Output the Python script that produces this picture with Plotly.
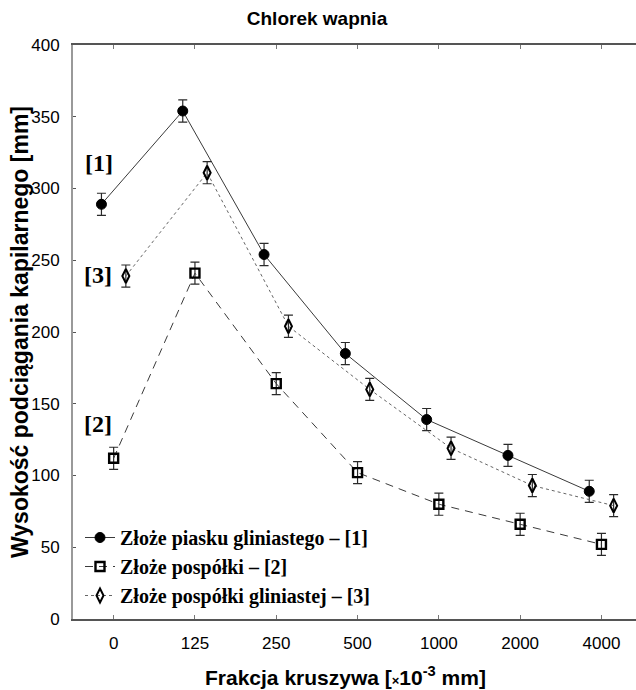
import plotly.graph_objects as go

# Aggregate fractions (x10^-3 mm)
fractions = ["0", "125", "250", "500", "1000", "2000", "4000"]

# Capillary rise height [mm] for each bed
piasek_gliniasty = [289, 354, 254, 185, 139, 114, 89]
pospolka = [112, 241, 164, 102, 80, 66, 52]
pospolka_gliniasta = [239, 311, 204, 160, 119, 93, 79]

# Error bar half-widths [mm]
err_piasek = [7.7, 7.7, 7.7, 7.7, 7.7, 7.7, 7.7]
err_pospolka = [7.7, 7.7, 7.7, 7.7, 7.7, 7.7, 7.7]
err_pospolka_gl = [7.7, 7.7, 7.7, 7.7, 7.7, 7.7, 7.7]

names = [
    "Złoże piasku gliniastego – [1]",
    "Złoże pospółki – [2]",
    "Złoże pospółki gliniastej – [3]",
]

idx = list(range(len(fractions)))
W, H = 636, 690
L, R, T, B = 73, 0, 45, 71

fig = go.Figure()

def add_series(vals, errs, name, offset, symbol, msize, mcolor, mline, lcolor, dash, lwidth):
    fig.add_trace(go.Scatter(
        x=[i + offset for i in idx], y=vals, name="<b>" + name + "</b>",
        mode="lines+markers",
        line=dict(color=lcolor, width=lwidth, dash=dash),
        marker=dict(symbol=symbol, size=msize, color=mcolor,
                    line=dict(color="#000000", width=mline)),
        error_y=dict(type="data", array=errs, visible=True,
                     color="#2a2a2a", thickness=1.2, width=4.5),
    ))

add_series(piasek_gliniasty, err_piasek, names[0], -0.15, "circle", 10,
           "#000000", 1, "#3a3a3a", "solid", 1)
add_series(pospolka, err_pospolka, names[1], 0.0, "square-open", 9,
           "#000000", 2.4, "#3a3a3a", "8px,6px", 1)
add_series(pospolka_gliniasta, err_pospolka_gl, names[2], 0.15, "diamond-tall-open", 10,
           "#000000", 2, "#666666", "dot", 1)

tick_font = dict(family="Liberation Sans Narrow, Arial Narrow, Liberation Sans, Arial",
                 size=17, color="#000000")

fig.update_xaxes(
    range=[-0.5, 6.425], tickmode="array", tickvals=idx, ticktext=fractions,
    showline=True, linecolor="#555555", linewidth=1.5, mirror="ticks",
    ticks="inside", ticklen=4, tickcolor="#777777", tickwidth=1,
    showgrid=False, zeroline=False, tickfont=tick_font, ticklabelstandoff=8,
)
fig.update_yaxes(
    range=[0, 400], tickmode="array", tickvals=[0, 50, 100, 150, 200, 250, 300, 350, 400],
    showline=True, linecolor="#999999", linewidth=2,
    ticks="inside", ticklen=3, tickcolor="#555555", tickwidth=1,
    showgrid=False, zeroline=False, tickfont=tick_font, ticklabelstandoff=8,
)

def px_x(p):
    return (p - L) / (W - L - R)

def px_y(p):
    return (H - B - p) / (H - T - B)

bold_serif = dict(family="Liberation Serif, Times New Roman, serif", size=24, color="#000000")
labels = [("<b>[1]</b>", 99, 163), ("<b>[3]</b>", 98, 275), ("<b>[2]</b>", 98, 424)]
annotations = [
    dict(text=t, x=px_x(x), y=px_y(y), xref="paper", yref="paper",
         showarrow=False, font=bold_serif, xanchor="center", yanchor="middle")
    for t, x, y in labels
]

sans_bold = "Liberation Sans, Arial, sans-serif"
annotations.append(dict(
    text="<b>Frakcja kruszywa [<span style='font-size:13px'>×</span>10<sup>-3</sup> mm]</b>",
    x=px_x(345), y=px_y(676), xref="paper", yref="paper",
    showarrow=False, font=dict(family=sans_bold, size=21, color="#000000"),
    xanchor="center", yanchor="middle"))
annotations.append(dict(
    text="<b>Wysokość podciągania kapilarnego [mm]</b>",
    x=px_x(20), y=px_y(332), xref="paper", yref="paper", textangle=-90,
    showarrow=False, font=dict(family=sans_bold, size=23, color="#000000"),
    xanchor="center", yanchor="middle"))

fig.update_layout(
    width=W, height=H,
    margin=dict(l=L, r=R, t=T, b=B, pad=0),
    paper_bgcolor="white", plot_bgcolor="white",
    title=dict(text="<b>Chlorek wapnia</b>", x=317 / W, y=1 - 18 / H,
               xref="container", yref="container", xanchor="center", yanchor="middle",
               font=dict(family=sans_bold, size=19, color="#000000")),
    showlegend=True,
    legend=dict(x=px_x(80), y=px_y(615), xanchor="left", yanchor="bottom",
                bgcolor="rgba(0,0,0,0)", borderwidth=0, tracegroupgap=0,
                font=dict(family="Liberation Serif, Times New Roman, serif", size=20,
                          color="#000000"),
                itemwidth=30),
    annotations=annotations,
)

fig.write_html("out.html")
